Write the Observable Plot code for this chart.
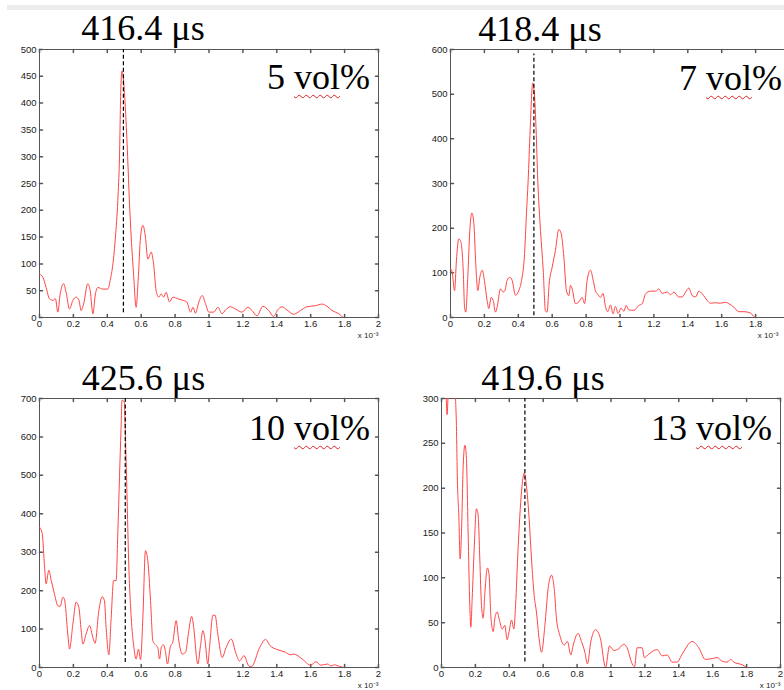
<!DOCTYPE html>
<html>
<head>
<meta charset="utf-8">
<script src="https://cdn.jsdelivr.net/npm/d3@7"></script>
<script src="https://cdn.jsdelivr.net/npm/@observablehq/plot@0.6"></script>
<style>
html, body { margin: 0; padding: 0; background: #fff; overflow: hidden; }
#chart { position: relative; width: 784px; height: 690px; overflow: hidden; background: #fff; }
.strip { position: absolute; left: 7px; right: 0; top: 5px; height: 5px; background: #ececec; }
.panel { position: absolute; }
.big { position: absolute; font-family: "Liberation Serif", "Times New Roman", serif; font-size: 36px; line-height: 36px; color: #000; white-space: nowrap; }
.title { width: 220px; text-align: center; }
.vol { text-align: right; }
.vol span { text-decoration: underline wavy #e02020; text-decoration-thickness: 1px; text-underline-offset: 5px; text-decoration-skip-ink: none; }
</style>
</head>
<body>
<div id="chart"><div class="strip"></div></div>
<script>
// ---- Data ----
const times = ["416.4 μs", "418.4 μs", "425.6 μs", "419.6 μs"];
const concentrations = ["5 vol%", "7 vol%", "10 vol%", "13 vol%"];
const expLabel = "x 10⁻³";
const xTicks = [0, 0.2, 0.4, 0.6, 0.8, 1, 1.2, 1.4, 1.6, 1.8, 2];
const yTicks5 = [0, 50, 100, 150, 200, 250, 300, 350, 400, 450, 500];
const yTicks7 = [0, 100, 200, 300, 400, 500, 600];
const yTicks10 = [0, 100, 200, 300, 400, 500, 600, 700];
const yTicks13 = [0, 50, 100, 150, 200, 250, 300];
const markerX = [0.495, 0.492, 0.506, 0.492];
const markerTop = [500, 590, 700, 300];
const markerBottom = [9, 4, 13, 6];

const vol5 = [[0,81],[0.02,75],[0.039,56],[0.059,35],[0.079,32],[0.094,35],[0.108,10],[0.122,44],[0.142,63],[0.157,47],[0.177,16],[0.197,32],[0.216,38],[0.232,33],[0.246,13],[0.26,25],[0.285,63],[0.299,50],[0.315,7],[0.33,44],[0.344,56],[0.374,53],[0.403,53],[0.417,69],[0.433,100],[0.448,150],[0.462,218],[0.472,300],[0.48,430],[0.487,460],[0.495,445],[0.505,400],[0.52,300],[0.53,220],[0.541,150],[0.555,81],[0.57,19],[0.582,69],[0.596,150],[0.61,172],[0.625,150],[0.639,109],[0.659,122],[0.673,100],[0.688,50],[0.704,38],[0.718,44],[0.732,38],[0.747,47],[0.767,29],[0.787,38],[0.816,35],[0.846,32],[0.869,29],[0.891,10],[0.906,19],[0.92,8],[0.94,29],[0.96,41],[0.979,26],[0.999,10],[1.028,10],[1.052,19],[1.077,7],[1.097,14],[1.126,20],[1.156,16],[1.195,10],[1.229,19],[1.254,13],[1.283,3],[1.318,21],[1.352,13],[1.381,2],[1.405,14],[1.431,20],[1.46,14],[1.5,6],[1.539,13],[1.578,20],[1.628,22],[1.667,25],[1.696,21],[1.726,13],[1.766,7],[1.796,0],[2,0]];

const vol7 = [[0,109],[0.01,101],[0.024,60],[0.035,128],[0.049,176],[0.059,172],[0.075,106],[0.083,23],[0.09,12],[0.102,90],[0.114,195],[0.126,234],[0.138,210],[0.149,120],[0.161,60],[0.173,90],[0.187,106],[0.2,83],[0.216,38],[0.226,20],[0.24,45],[0.252,38],[0.265,12],[0.275,23],[0.295,64],[0.311,57],[0.321,60],[0.334,83],[0.35,90],[0.364,83],[0.383,50],[0.403,60],[0.419,83],[0.437,143],[0.448,232],[0.458,306],[0.47,420],[0.485,525],[0.495,500],[0.505,420],[0.515,306],[0.531,195],[0.547,106],[0.56,15],[0.57,12],[0.582,75],[0.6,113],[0.619,150],[0.639,197],[0.653,188],[0.669,135],[0.684,60],[0.698,49],[0.708,72],[0.718,64],[0.737,31],[0.757,35],[0.777,45],[0.791,31],[0.806,83],[0.826,106],[0.842,83],[0.855,60],[0.869,52],[0.885,45],[0.9,54],[0.914,25],[0.928,13],[0.944,28],[0.959,8],[0.973,25],[0.989,9],[1.006,21],[1.023,14],[1.036,27],[1.052,17],[1.082,16],[1.111,27],[1.131,31],[1.151,53],[1.18,59],[1.21,59],[1.229,64],[1.249,54],[1.279,57],[1.298,51],[1.318,57],[1.347,46],[1.367,46],[1.387,57],[1.406,66],[1.426,49],[1.446,46],[1.465,59],[1.485,53],[1.515,38],[1.534,32],[1.564,33],[1.593,32],[1.623,34],[1.642,31],[1.672,23],[1.701,13],[1.731,13],[1.77,10],[1.794,1],[1.8,0],[2,0]];

const vol10 = [[0,365],[0.016,348],[0.03,261],[0.039,218],[0.055,253],[0.069,227],[0.088,192],[0.108,161],[0.122,159],[0.138,183],[0.147,178],[0.167,87],[0.177,48],[0.197,113],[0.216,170],[0.232,157],[0.246,96],[0.256,61],[0.275,87],[0.295,109],[0.315,78],[0.328,63],[0.35,148],[0.37,184],[0.383,174],[0.393,104],[0.409,33],[0.423,131],[0.437,226],[0.452,226],[0.462,348],[0.472,497],[0.481,620],[0.487,696],[0.5,691],[0.508,586],[0.516,453],[0.526,277],[0.541,131],[0.557,52],[0.57,22],[0.584,48],[0.596,20],[0.61,131],[0.625,304],[0.639,278],[0.655,174],[0.669,69],[0.684,59],[0.698,52],[0.708,22],[0.72,55],[0.732,59],[0.743,42],[0.755,9],[0.771,52],[0.787,67],[0.806,122],[0.822,69],[0.842,35],[0.861,39],[0.881,96],[0.897,133],[0.914,87],[0.924,35],[0.934,9],[0.95,57],[0.964,96],[0.977,69],[0.993,9],[1.003,52],[1.023,136],[1.036,136],[1.052,87],[1.078,26],[1.101,52],[1.131,74],[1.16,35],[1.18,17],[1.206,31],[1.235,4],[1.25,2],[1.3,53],[1.334,73],[1.36,57],[1.4,47],[1.45,40],[1.48,33],[1.5,35],[1.55,22],[1.6,6],[1.63,15],[1.66,6],[1.7,9],[1.72,4],[1.74,7],[1.77,3],[1.8,0],[2,0]];

const vol13 = [[0,400],[0.02,330],[0.028,300],[0.033,282],[0.038,300],[0.045,340],[0.075,340],[0.083,300],[0.088,270],[0.094,207],[0.102,170],[0.11,121],[0.118,151],[0.128,225],[0.138,248],[0.147,233],[0.157,151],[0.167,69],[0.173,45],[0.181,77],[0.193,133],[0.206,177],[0.216,170],[0.226,121],[0.236,69],[0.246,55],[0.256,84],[0.271,111],[0.281,103],[0.291,58],[0.305,40],[0.315,55],[0.328,62],[0.344,51],[0.358,43],[0.374,47],[0.387,31],[0.399,40],[0.413,53],[0.427,43],[0.437,69],[0.452,133],[0.472,196],[0.488,217],[0.501,203],[0.517,166],[0.531,121],[0.547,80],[0.56,62],[0.576,32],[0.59,17],[0.61,47],[0.629,88],[0.649,103],[0.665,88],[0.678,55],[0.698,36],[0.724,25],[0.743,29],[0.763,14],[0.777,25],[0.806,38],[0.826,29],[0.846,17],[0.861,4],[0.881,29],[0.909,42],[0.938,32],[0.968,0],[0.991,24],[1.017,19],[1.046,21],[1.076,26],[1.095,22],[1.125,4],[1.139,1],[1.154,22],[1.184,22],[1.197,11],[1.223,15],[1.272,20],[1.302,13],[1.331,14],[1.361,6],[1.39,6],[1.42,15],[1.479,29],[1.518,22],[1.557,9],[1.597,10],[1.626,11],[1.656,7],[1.685,6],[1.705,9],[1.725,6],[1.774,3],[1.793,1],[1.803,0],[2,0]];

// ---- Layout ----
const series = [vol5, vol7, vol10, vol13];
const yTickSets = [yTicks5, yTicks7, yTicks10, yTicks13];
const svgPos = [[0, 44], [411, 44], [0, 393], [402, 393]];
const frameH = [268, 268, 269, 269];
const titlePos = [[143, 10], [540, 11], [143.5, 360], [543, 360]];
const volPos = [[370, 59], [782, 60], [370, 410], [772, 410]];
const expShift = [0, -6, 0, 0];

const chart = document.getElementById("chart");
const fmt = d => String(+d.toFixed(1));
const axisColor = "#555";
// plain inward tick (a straight segment, no arrow head)
const tickShape = {draw(context, l) { context.moveTo(0, 0); context.lineTo(0, -l); }};

for (let i = 0; i < 4; i++) {
  const yt = yTickSets[i];
  const yMax = yt[yt.length - 1];
  const frameRight = svgPos[i][0] + 39 + 339;
  // labels whose position falls outside the 784px window are not drawn (as in the reference)
  const xLabelTicks = xTicks.filter(t => svgPos[i][0] + 39 + t / 2 * 339 + 4 <= 784);
  const plot = Plot.plot({
    width: 390,
    height: 5 + frameH[i] + 27,
    marginLeft: 39, marginRight: 12, marginTop: 5, marginBottom: 27,
    style: {background: "transparent", overflow: "visible", fontFamily: "'Liberation Sans', Arial, sans-serif", fontSize: "9.5px", color: "#1a1a1a", maxWidth: "none"},
    x: {domain: [0, 2]},
    y: {domain: [0, yMax]},
    marks: [
      Plot.frame({stroke: axisColor, strokeWidth: 1}),
      Plot.axisX(xLabelTicks, {tickSize: 0, tickPadding: 3, label: null, tickFormat: fmt}),
      Plot.axisY(yt, {tickSize: 0, tickPadding: 3, label: null}),
      Plot.vectorX(xTicks, {frameAnchor: "bottom", rotate: 0, length: 3, anchor: "start", stroke: axisColor, shape: tickShape}),
      Plot.vectorX(xTicks, {frameAnchor: "top", rotate: 180, length: 3, anchor: "start", stroke: axisColor, shape: tickShape}),
      Plot.vectorY(yt, {frameAnchor: "left", rotate: 90, length: 3, anchor: "start", stroke: axisColor, shape: tickShape}),
      Plot.vectorY(yt, {frameAnchor: "right", rotate: -90, length: 3, anchor: "start", stroke: axisColor, shape: tickShape}),
      Plot.line(series[i], {x: d => d[0], y: d => d[1], stroke: "#ff4545", strokeWidth: 1, curve: "monotone-x", clip: true}),
      Plot.ruleX([markerX[i]], {y1: markerBottom[i], y2: markerTop[i], stroke: "#000", strokeWidth: 1.2, strokeDasharray: "4,2.5"}),
      Plot.text([expLabel], {text: d => d, frameAnchor: "bottom-right", dy: 20, dx: expShift[i] - Math.max(0, frameRight - 784), textAnchor: "end", fontSize: 8})
    ]
  });
  const wrap = document.createElement("div");
  wrap.className = "panel";
  wrap.style.left = svgPos[i][0] + "px";
  wrap.style.top = svgPos[i][1] + "px";
  wrap.appendChild(plot);
  chart.appendChild(wrap);

  const t = document.createElement("div");
  t.className = "big title";
  t.style.left = (titlePos[i][0] - 110) + "px";
  t.style.top = titlePos[i][1] + "px";
  t.textContent = times[i];
  chart.appendChild(t);

  const v = document.createElement("div");
  v.className = "big vol";
  v.style.right = (784 - volPos[i][0]) + "px";
  v.style.top = volPos[i][1] + "px";
  const parts = concentrations[i].split("vol");
  v.append(parts[0]);
  const s = document.createElement("span");
  s.textContent = "vol";
  v.append(s);
  v.append(parts[1]);
  chart.appendChild(v);
}
</script>
</body>
</html>
